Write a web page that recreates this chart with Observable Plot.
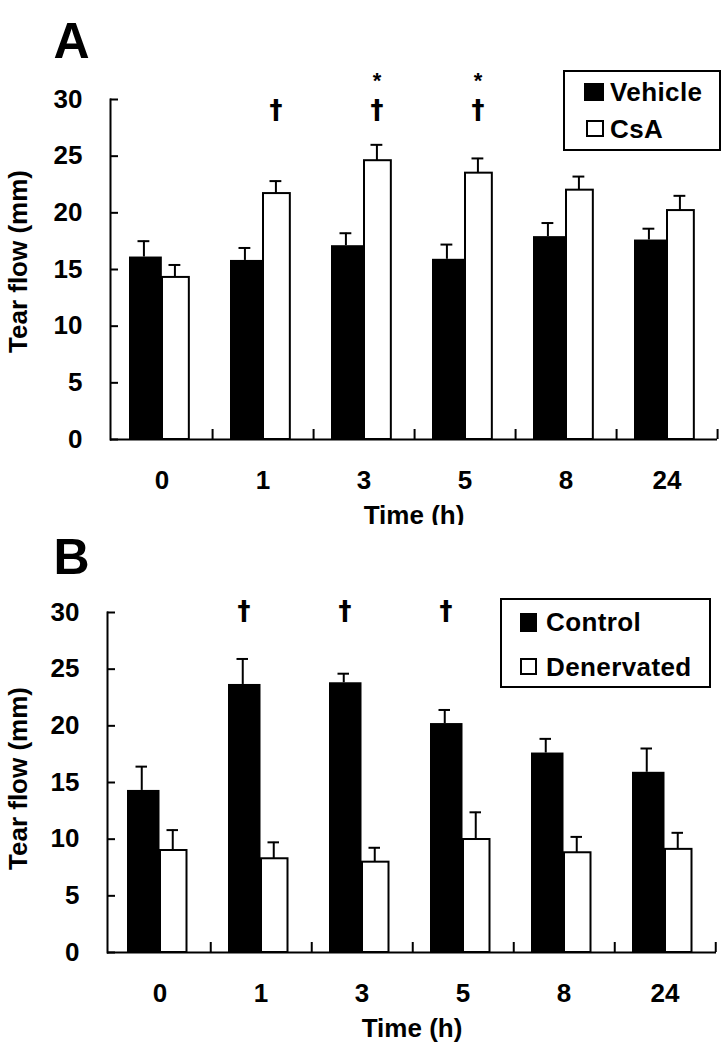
<!DOCTYPE html>
<html><head><meta charset="utf-8">
<script src="https://cdn.jsdelivr.net/npm/d3@7"></script>
<script src="https://cdn.jsdelivr.net/npm/@observablehq/plot@0.6"></script>
<style>
body{margin:0;background:#fff;font-family:"Liberation Sans",Arial,sans-serif;}
#wrap{position:relative;width:728px;}
.panel{position:relative;width:728px;height:525px;}
.panel svg text{font-weight:bold;}
.legend{position:absolute;box-sizing:border-box;border:2px solid #000;background:#fff;}
.sw{position:absolute;box-sizing:border-box;border:2px solid #000;}
.lt{position:absolute;font-weight:bold;font-size:26px;line-height:30px;letter-spacing:0.4px;color:#000;white-space:nowrap;}
</style></head><body>
<div id="wrap"><div class="panel" id="pA"></div><div class="panel" id="pB"></div></div>
<script>
const times = ["0", "1", "3", "5", "8", "24"];
const yTicks = [0, 5, 10, 15, 20, 25, 30];
// Panel A
const seriesA = ["Vehicle", "CsA"];
const vehicleMean = [16.1, 15.8, 17.1, 15.9, 17.9, 17.6];
const vehicleErr  = [1.4, 1.1, 1.1, 1.3, 1.2, 1.0];
const csaMean     = [14.3, 21.7, 24.6, 23.5, 22.0, 20.2];
const csaErr      = [1.1, 1.1, 1.4, 1.3, 1.2, 1.3];
const daggerA = ["1", "3", "5"];
const starA = ["3", "5"];
// Panel B
const seriesB = ["Control", "Denervated"];
const controlMean = [14.3, 23.65, 23.8, 20.2, 17.6, 15.9];
const controlErr  = [2.1, 2.25, 0.8, 1.2, 1.25, 2.1];
const denervMean  = [9.0, 8.27, 7.97, 9.97, 8.8, 9.1];
const denervErr   = [1.8, 1.45, 1.27, 2.4, 1.4, 1.46];
const daggerB = ["1", "3", "5"];

function rows(m, e) { return times.map((t, i) => ({time: t, mean: m[i], hi: m[i] + e[i]})); }

function panel(el, cfg) {
  const W = 728, H = 525;
  const bw = (W - cfg.mL - cfg.mR) / times.length;
  const ph = H - cfg.mT - cfg.mB;
  const pxPerUnit = ph / 30;
  const dark = rows(cfg.m1, cfg.e1);
  const light = rows(cfg.m2, cfg.e2);
  const c = bw / 2;
  const marks = [
    Plot.barY(dark, {x: "time", y: "mean", fill: "#000", insetLeft: 18, insetRight: bw - 51}),
    Plot.barY(light, {x: "time", y: "mean", fill: "#fff", stroke: "#000", strokeWidth: 2, insetLeft: 51, insetRight: bw - 78}),
    Plot.ruleX(dark, {x: "time", y1: "mean", y2: "hi", dx: 32.5 - c, strokeWidth: 2}),
    Plot.tickY(dark, {x: "time", y: "hi", insetLeft: 26.5, insetRight: bw - 38.5, strokeWidth: 2}),
    Plot.ruleX(light, {x: "time", y1: "mean", y2: "hi", dx: 63.5 - c, strokeWidth: 2}),
    Plot.tickY(light, {x: "time", y: "hi", insetLeft: 57.5, insetRight: bw - 69.5, strokeWidth: 2}),
    Plot.ruleY([0], {strokeWidth: 2}),
    Plot.frame({anchor: "left", strokeWidth: 2}),
    Plot.ruleX(times, {x: d => d, y1: 0, y2: 10 / pxPerUnit, dx: c, strokeWidth: 2}),
    Plot.axisY({ticks: yTicks, tickSize: -8, tickFormat: () => "", strokeWidth: 2}),
    Plot.axisY({ticks: yTicks, tickSize: 0, tickPadding: cfg.yPad, fontSize: 26}),
    Plot.axisX({tickSize: 0, tickPadding: 31, fontSize: 26, label: null}),
    Plot.text(["Tear flow (mm)"], {frameAnchor: "left", textAnchor: "middle", dx: 18 - cfg.mL, dy: cfg.labelDy, rotate: -90, fontSize: 26, lineAnchor: "middle"}),
    Plot.text(["Time (h)"], {frameAnchor: "bottom", dy: 76, fontSize: 26, lineAnchor: "middle"}),
    Plot.text([cfg.letter], {frameAnchor: "top-left", textAnchor: "start", lineAnchor: "top", dx: 53 - cfg.mL, dy: cfg.letterTop - cfg.mT, fontSize: 50}),
    Plot.text(cfg.dagger, {x: d => d, frameAnchor: "top", dx: cfg.annDx, dy: cfg.daggerDy, text: () => "\u2020", fontSize: 26, fontFamily: "'DejaVu Sans'", fill: "#000", lineAnchor: "middle"})
  ];
  if (cfg.star) marks.push(Plot.text(cfg.star, {x: d => d, frameAnchor: "top", dx: cfg.annDx, dy: cfg.starDy, text: () => "*", fontSize: 22, fill: "#000", lineAnchor: "middle"}));
  const chart = Plot.plot({
    width: W, height: H,
    marginLeft: cfg.mL, marginRight: cfg.mR, marginTop: cfg.mT, marginBottom: cfg.mB,
    style: {fontFamily: "'Liberation Sans', Arial, sans-serif", color: "#000", background: "#fff", overflow: "visible"},
    x: {domain: times, padding: 0},
    y: {domain: [0, 30]},
    marks
  });
  el.appendChild(chart);
  // legend
  const lg = document.createElement("div");
  lg.className = "legend";
  Object.assign(lg.style, cfg.legend.box);
  el.appendChild(lg);
  cfg.legend.items.forEach((it, i) => {
    const sw = document.createElement("div");
    sw.className = "sw";
    Object.assign(sw.style, it.sw, {background: i === 0 ? "#000" : "#fff"});
    el.appendChild(sw);
    const t = document.createElement("div");
    t.className = "lt";
    t.textContent = cfg.names[i];
    Object.assign(t.style, it.txt);
    el.appendChild(t);
  });
}

panel(document.getElementById("pA"), {
  mL: 110, mR: 11, mT: 99, mB: 86, yPad: 28, labelDy: -8,
  m1: vehicleMean, e1: vehicleErr, m2: csaMean, e2: csaErr,
  names: seriesA, letter: "A", letterTop: 22,
  dagger: daggerA, star: starA, annDx: 13, daggerDy: 11, starDy: -19,
  legend: {
    box: {left: "563px", top: "70px", width: "158px", height: "81px"},
    items: [
      {sw: {left: "584px", top: "83px", width: "20px", height: "18px"}, txt: {left: "610px", top: "77px"}},
      {sw: {left: "586px", top: "120px", width: "18px", height: "17px"}, txt: {left: "610px", top: "114px"}}
    ]
  }
});
panel(document.getElementById("pB"), {
  mL: 107, mR: 12, mT: 87, mB: 98, yPad: 28, labelDy: -4,
  m1: controlMean, e1: controlErr, m2: denervMean, e2: denervErr,
  names: seriesB, letter: "B", letterTop: 13,
  dagger: daggerB, star: null, annDx: -17, daggerDy: -1, starDy: 0,
  legend: {
    box: {left: "500px", top: "73px", width: "211px", height: "90px"},
    items: [
      {sw: {left: "520px", top: "88px", width: "17px", height: "19px"}, txt: {left: "546px", top: "82px"}},
      {sw: {left: "520px", top: "133px", width: "17px", height: "17px"}, txt: {left: "546px", top: "127px"}}
    ]
  }
});
</script>
</body></html>
